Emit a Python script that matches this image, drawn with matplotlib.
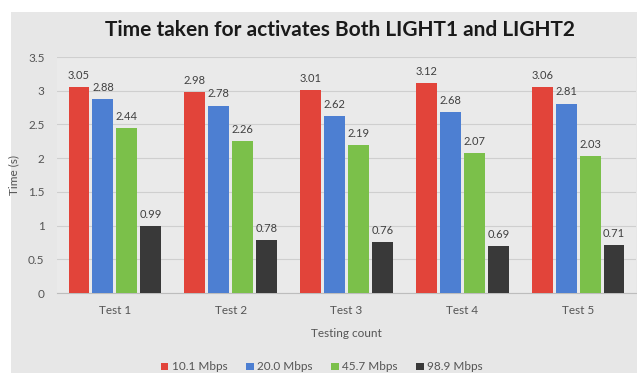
import matplotlib.pyplot as plt
from matplotlib.patches import Rectangle
import numpy as np

plt.rcParams['font.family'] = ['Lato', 'DejaVu Sans']

# Data
tests = ["Test 1", "Test 2", "Test 3", "Test 4", "Test 5"]
speeds = ["10.1 Mbps", "20.0 Mbps", "45.7 Mbps", "98.9 Mbps"]
t_10_1 = [3.05, 2.98, 3.01, 3.12, 3.06]
t_20_0 = [2.88, 2.78, 2.62, 2.68, 2.81]
t_45_7 = [2.44, 2.26, 2.19, 2.07, 2.03]
t_98_9 = [0.99, 0.78, 0.76, 0.69, 0.71]

colors = ["#e2443a", "#4d7fd2", "#7bc04a", "#393939"]
series = [t_10_1, t_20_0, t_45_7, t_98_9]

fig = plt.figure(figsize=(6.37, 3.73), dpi=100)
fig.patch.set_facecolor("white")

# grey chart area (image is cropped, white margin top/left)
fig.patches.append(Rectangle((11 / 637, 0), 1, 1 - 12 / 373,
                             transform=fig.transFigure, facecolor="#e7e7e7",
                             edgecolor="none", zorder=-5))

ax = fig.add_axes([57 / 637, 1 - 293 / 373, 579 / 637, 236 / 373])
ax.set_facecolor("#eaeaea")

x = np.arange(len(tests))
pitch = 0.207
width = 0.18
for i, (vals, col, name) in enumerate(zip(series, colors, speeds)):
    pos = x + (i - 1.5) * pitch
    bars = ax.bar(pos, vals, width=width, color=col, label=name, zorder=3)
    for b, v in zip(bars, vals):
        ax.text(b.get_x() + b.get_width() / 2, v + 0.09, "%.2f" % v,
                ha="center", va="bottom", fontsize=8, color="#404040")

ax.set_xlim(-0.5, 4.5)
ax.set_ylim(0, 3.5)
ax.set_yticks(np.arange(0, 3.6, 0.5))
ax.set_yticklabels(["0", "0.5", "1", "1.5", "2", "2.5", "3", "3.5"])
ax.set_xticks(x)
ax.set_xticklabels(tests)
ax.tick_params(length=0, labelsize=8.5, colors="#555555", pad=9)
ax.grid(axis="y", color="#cfcfcf", linewidth=0.8, zorder=0)
for s in ["top", "right", "left"]:
    ax.spines[s].set_visible(False)
ax.spines["bottom"].set_color("#bdbdbd")

ax.set_ylabel("Time (s)", fontsize=8.5, color="#555555", labelpad=6)
ax.set_xlabel("Testing count", fontsize=8.5, color="#555555", labelpad=8)

fig.text(340 / 637, 1 - 30 / 373, "Time taken for activates Both LIGHT1 and LIGHT2",
         ha="center", va="center", fontsize=15, fontweight="bold", color="#1a1a1a")

ax.legend(loc="center", bbox_to_anchor=(322 / 637, 1 - 367 / 373),
          bbox_transform=fig.transFigure, ncol=4, frameon=False, fontsize=8.5,
          handlelength=0.6, handleheight=0.6, handletextpad=0.3, columnspacing=1.6,
          labelcolor="#555555")

fig.savefig("out.png", dpi=100)
